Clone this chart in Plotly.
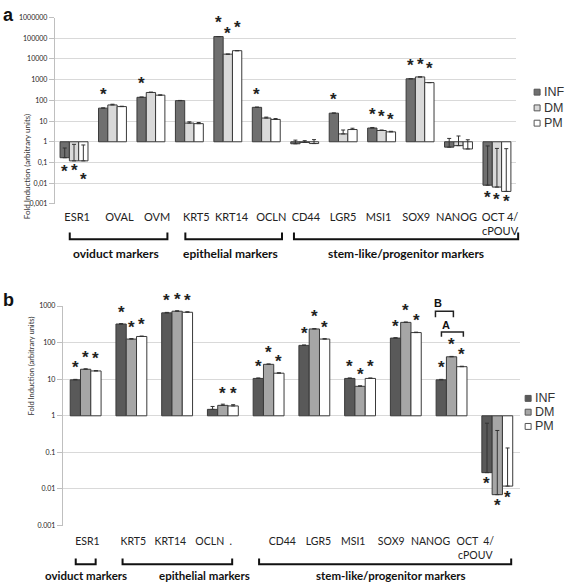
import math
import plotly.graph_objects as go

# ---------------- data: panel a ----------------
cats_a = ["ESR1", "OVAL", "OVM", "KRT5", "KRT14", "OCLN", "CD44", "LGR5",
          "MSI1", "SOX9", "NANOG", "OCT 4/<br>cPOUV"]
inf_a = [0.17, 42, 140, 97, 120000, 46, 0.8, 24, 4.6, 1100, 0.55, 0.008]
dm_a = [0.12, 60, 240, 8, 17000, 14, 0.93, 2.4, 3.5, 1350, 0.65, 0.0065]
pm_a = [0.12, 50, 178, 7.5, 25000, 12, 0.82, 3.9, 3.0, 720, 0.45, 0.004]
inf_a_err = [0.33, 1, 5, 2, 0, 1, 0.4, 0.5, 0.3, 0, 0.9, 0.62]
dm_a_err = [0.63, 5, 10, 1.2, 0, 1.5, 0.2, 1.3, 0.2, 0, 1.25, 0.47]
pm_a_err = [0.58, 2, 5, 1, 0, 1.2, 0.45, 0.6, 0.2, 0, 0.8, 0.46]
star_a = {
    "INF": [1, 1, 1, 0, 1, 1, 0, 1, 1, 1, 0, 1],
    "DM": [1, 0, 0, 0, 1, 0, 0, 0, 1, 1, 0, 1],
    "PM": [1, 0, 0, 0, 1, 0, 0, 0, 1, 1, 0, 1],
}
tick_a_vals = [0.001, 0.01, 0.1, 1, 10, 100, 1000, 10000, 100000, 1000000]
tick_a_text = ["0,001", "0,01", "0,1", "1", "10", "100", "1000", "10000",
               "100000", "1000000"]

# ---------------- data: panel b ----------------
cats_b = ["ESR1", "KRT5", "KRT14", "OCLN  .", "CD44", "LGR5", "MSI1", "SOX9",
          "NANOG", "OCT  4/<br>cPOUV"]
inf_b = [9.6, 322, 650, 1.5, 10.5, 84, 10.5, 133, 9.6, 0.028]
dm_b = [18.7, 125, 720, 1.93, 25.5, 236, 6.4, 357, 41, 0.007]
pm_b = [16.8, 147, 675, 1.86, 14.6, 125, 10.5, 188, 22, 0.012]
inf_b_err = [0.3, 8, 20, 0.3, 0.3, 2, 0.3, 3, 0.3, 0.6]
dm_b_err = [0.5, 4, 20, 0.15, 0.6, 5, 0.2, 8, 1, 0.39]
pm_b_err = [0.4, 4, 20, 0.15, 0.4, 3, 0.3, 5, 0.6, 0.12]
star_b = {
    "INF": [1, 1, 1, 0, 1, 1, 1, 1, 1, 1],
    "DM": [1, 1, 1, 1, 1, 1, 1, 1, 1, 1],
    "PM": [1, 1, 1, 1, 1, 1, 1, 1, 1, 1],
}
tick_b_vals = [0.001, 0.01, 0.1, 1, 10, 100, 1000]
tick_b_text = ["0.001", "0.01", "0.1", "1", "10", "100", "1000"]

series_names = ["INF", "DM", "PM"]

# ---------------- layout helpers (positions / styles) ----------------
W, H = 567, 587
def px(x):
    return x / W
def py(y):
    return 1 - y / H

lab_off_a = [0.08, 0.18, 0.16, 0.18, 0.1, 0.13, 0.03, 0.0, -0.08, -0.1, -0.05, 0.08]
lab_off_b = [0.04, 0.04, -0.15, -0.2, 0.3, 0.09, -0.15, -0.32, -0.46, -0.48]
star_gap_a = {"INF": [12, 16, 16, 15, 16, 15, 15, 16, 16, 15, 15, 10],
              "DM": [8, 15, 15, 15, 23, 15, 15, 15, 16, 14, 15, 10],
              "PM": [17, 15, 15, 15, 25, 15, 15, 15, 14, 16, 15, 8]}
star_gap_b = 14
star_gap_b_below = 9
STAR_D = 2  # glyph centre offset above text-box middle (px)

colors_a = {"INF": "#6f6f6f", "DM": "#d9d9d9", "PM": "#ffffff"}
colors_b = {"INF": "#595959", "DM": "#a6a6a6", "PM": "#ffffff"}
edge = "#3a3a3a"

fig = go.Figure()

def add_panel(cats, series, errs, colors, xa, ya, w, stars, gaps, gaps_below=None):
    offs = [-1.5 * w, -0.5 * w, 0.5 * w]
    xs = list(range(len(cats)))
    for k, name in enumerate(series_names):
        vals = series[k]
        fig.add_trace(go.Bar(
            x=xs, y=[v - 1 for v in vals], base=[1] * len(vals),
            name=name, xaxis=xa, yaxis=ya, width=w, offset=offs[k],
            marker=dict(color=colors[name], line=dict(color=edge, width=1)),
            error_y=dict(type="data", array=errs[k], arrayminus=[0] * len(vals),
                         color="#333333", thickness=1, width=2),
            showlegend=False, hoverinfo="skip",
        ))
        for i, v in enumerate(vals):
            if not stars[name][i]:
                continue
            if isinstance(gaps, dict):
                g = gaps[name][i]
            else:
                g = gaps if v >= 1 else gaps_below
            up = v >= 1
            fig.add_annotation(
                x=i + offs[k] + w / 2, y=math.log10(v), xref=xa, yref=ya,
                text="<b>*</b>", showarrow=False, xanchor="center", yanchor="middle",
                yshift=(g - STAR_D) if up else -(g + STAR_D),
                font=dict(family="Liberation Sans", size=17, color="#222222"),
            )

add_panel(cats_a, [inf_a, dm_a, pm_a], [inf_a_err, dm_a_err, pm_a_err],
          colors_a, "x", "y", 0.242, star_a, star_gap_a)
add_panel(cats_b, [inf_b, dm_b, pm_b], [inf_b_err, dm_b_err, pm_b_err],
          colors_b, "x2", "y2", 0.225, star_b, star_gap_b, star_gap_b_below)

axis_common = dict(showgrid=False, zeroline=False, ticks="", showline=False,
                   tickfont=dict(family="Lato", size=11, color="#222222"))
yaxis_common = dict(type="log", showgrid=True, gridcolor="#d9d9d9", gridwidth=1,
                    zeroline=False, showline=True, linecolor="#bfbfbf", linewidth=1,
                    ticks="outside", ticklen=5, tickcolor="#bfbfbf",
                    tickfont=dict(family="Lato", size=7, color="#222222"))

fig.update_layout(
    width=W, height=H, margin=dict(l=0, r=0, t=0, b=0),
    paper_bgcolor="white", plot_bgcolor="white",
    barmode="overlay", showlegend=False,
    xaxis=dict(domain=[px(55), px(518)], range=[-0.5, len(cats_a) - 0.5],
               tickvals=[i + o for i, o in enumerate(lab_off_a)], ticktext=cats_a,
               anchor="y", ticklabelstandoff=5, **axis_common),
    yaxis=dict(domain=[py(202), py(12.7)], range=[-3, 6], anchor="x",
               tickvals=tick_a_vals, ticktext=tick_a_text, **yaxis_common),
    xaxis2=dict(domain=[px(63), px(522)], range=[-0.5, len(cats_b) - 0.5],
                tickvals=[i + o for i, o in enumerate(lab_off_b)], ticktext=cats_b,
                anchor="y2", ticklabelstandoff=8, **axis_common),
    yaxis2=dict(domain=[py(528.7), py(305.7)], range=[-3, 3], anchor="x2",
                tickvals=tick_b_vals, ticktext=tick_b_text, **yaxis_common),
)
fig.update_layout(xaxis2_tickfont_size=10.5)

# legends (swatch + text)
def legend(x0, ys, colors, size=6):
    for name, y in zip(series_names, ys):
        fig.add_shape(type="rect", xref="paper", yref="paper",
                      x0=px(x0), x1=px(x0 + size), y0=py(y - size / 2), y1=py(y + size / 2),
                      fillcolor=colors[name], line=dict(color="#555555", width=1))
        fig.add_annotation(x=px(x0 + size + 2), y=py(y), xref="paper", yref="paper",
                           xanchor="left", yanchor="middle", text=name, showarrow=False,
                           font=dict(family="Liberation Sans", size=12.5, color="#333333"))

legend(536, [88.5, 104.5, 120], colors_a)
legend(527, [399.5, 413.5, 428], colors_b)

# y-axis titles
fig.add_annotation(x=px(20), y=py(108), xref="paper", yref="paper", textangle=-90,
                   text="Fold Induction (arbitrary units)", showarrow=False,
                   font=dict(family="Lato", size=8, color="#333333"))
fig.add_annotation(x=px(25), y=py(419), xref="paper", yref="paper", textangle=-90,
                   text="Fold Induction (arbitrary units)", showarrow=False,
                   font=dict(family="Lato", size=7.5, color="#333333"))

# panel letters
fig.add_annotation(x=px(1), y=py(-2), xref="paper", yref="paper", xanchor="left",
                   yanchor="top", text="<b>a</b>", showarrow=False,
                   font=dict(family="Liberation Sans", size=18, color="#111111"))
fig.add_annotation(x=px(1), y=py(287), xref="paper", yref="paper", xanchor="left",
                   yanchor="top", text="<b>b</b>", showarrow=False,
                   font=dict(family="Liberation Sans", size=18, color="#111111"))

# group brackets and labels
def bracket(x1, x2, ytop, ybot, label, lx, ly, size=12):
    fig.add_shape(type="path", xref="paper", yref="paper",
                  path=f"M {px(x1)},{py(ytop)} L {px(x1)},{py(ybot)} L {px(x2)},{py(ybot)} L {px(x2)},{py(ytop)}",
                  line=dict(color="#111111", width=2))
    fig.add_annotation(x=px(lx), y=py(ly), xref="paper", yref="paper", text=f"<b>{label}</b>",
                       showarrow=False, xanchor="center", yanchor="middle",
                       font=dict(family="Lato", size=size, color="#111111"))

bracket(70, 168, 231, 238, "oviduct markers", 116, 252)
bracket(186, 283, 231, 238, "epithelial markers", 231, 252)
bracket(295, 520, 231, 238, "stem-like/progenitor markers", 407, 252)
bracket(76, 96, 562, 568, "oviduct markers", 86, 579, 11.5)
bracket(123, 233, 562, 568, "epithelial markers", 205, 579, 11.5)
bracket(260, 513, 562, 568, "stem-like/progenitor markers", 392, 579, 11.5)

# A / B significance brackets over NANOG (panel b)
for (x1, x2, ytop, ybot, lab, ly) in [(437, 455, 311, 317, "B", 303), (443, 465, 332, 337, "A", 325)]:
    fig.add_shape(type="path", xref="paper", yref="paper",
                  path=f"M {px(x1)},{py(ybot)} L {px(x1)},{py(ytop)} L {px(x2)},{py(ytop)} L {px(x2)},{py(ybot)}",
                  line=dict(color="#222222", width=1.5))
    fig.add_annotation(x=px((x1 + x2) / 2), y=py(ly), xref="paper", yref="paper",
                       text=f"<b>{lab}</b>", showarrow=False,
                       font=dict(family="Liberation Sans", size=11, color="#111111"))

fig.write_html("out.html", config={"displayModeBar": False},
               post_script="document.body.style.margin='0';document.body.style.overflow='hidden';")
